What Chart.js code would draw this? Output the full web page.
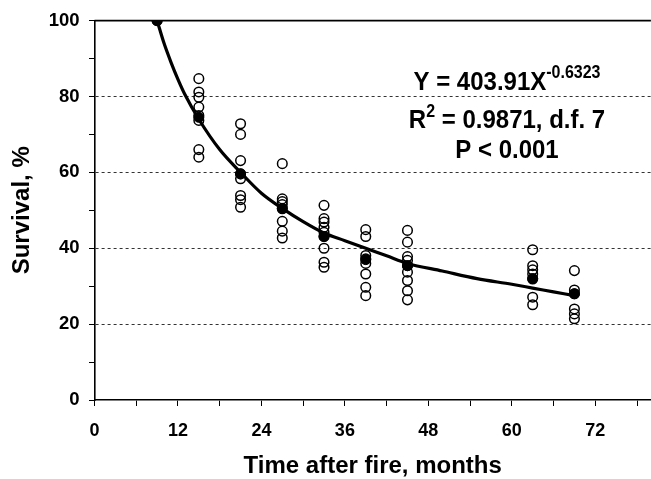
<!DOCTYPE html>
<html>
<head>
<meta charset="utf-8">
<script src="https://cdn.jsdelivr.net/npm/chart.js@4.4.1/dist/chart.umd.min.js"></script>
<style>
  html, body { margin: 0; padding: 0; background: #fff; }
  #wrap { width: 651px; height: 479px; position: relative; }
</style>
</head>
<body>
<div id="wrap"><canvas id="c" width="651" height="479"></canvas></div>
<script>
// ---- Data ----
const months = [9, 15, 21, 27, 33, 39, 45, 63, 69];
const obs09 = [100];
const obs15 = [84.7, 81.2, 79.8, 77.2, 75.0, 73.7, 66.0, 64.0];
const obs21 = [72.8, 70.0, 63.1, 59.6, 58.3, 53.9, 52.8, 50.8];
const obs27 = [62.3, 53.0, 52.3, 51.5, 50.4, 47.1, 44.5, 42.7];
const obs33 = [51.3, 47.8, 46.9, 45.5, 44.2, 43.1, 40.0, 36.3, 35.0];
const obs39 = [44.9, 43.1, 38.1, 37.2, 36.0, 33.2, 29.7, 27.5];
const obs45 = [44.7, 41.6, 37.8, 36.8, 35.4, 33.7, 31.5, 28.8, 26.4];
const obs63 = [39.6, 35.4, 34.3, 33.2, 31.9, 27.1, 25.1];
const obs69 = [34.1, 29.0, 28.0, 24.0, 22.7, 21.4];
const meanSurvival = [100, 74.5, 59.6, 50.5, 43.1, 37.0, 35.4, 32.0, 28.0];

// fitted power curve
const fitMonths = [9, 10, 11, 12, 13, 15, 18, 21, 24, 27, 30, 33, 36, 39, 42, 45, 50, 55, 60, 63, 66, 69];
const fitSurvival = [100, 94, 89, 84.5, 80.5, 74, 66, 60, 54.5, 50.5, 47, 44, 42, 40, 38, 36, 34, 32, 30.5, 29.5, 28.5, 27.5];

const xTickValues = [0, 6, 12, 18, 24, 30, 36, 42, 48, 54, 60, 66, 72, 78];
const xTickLabels = ['0', '', '12', '', '24', '', '36', '', '48', '', '60', '', '72', ''];
const yTickValues = [0, 10, 20, 30, 40, 50, 60, 70, 80, 90, 100];
const yTickLabels = ['0', '', '20', '', '40', '', '60', '', '80', '', '100'];
const dashedGridValues = [20, 40, 60, 80];

const equationLines = [
  { base: 'Y = 403.91X', sup: '-0.6323', after: '' },
  { base: 'R', sup: '2', after: ' = 0.9871, d.f. 7' },
  { base: 'P < 0.001', sup: '', after: '' }
];

// ---- build datasets ----
const obsGroups = [obs09, obs15, obs21, obs27, obs33, obs39, obs45, obs63, obs69];
const obsPoints = [];
obsGroups.forEach((g, i) => g.forEach(v => obsPoints.push({ x: months[i], y: v })));
const meanPoints = months.map((m, i) => ({ x: m, y: meanSurvival[i] }));
const fitPoints = fitMonths.map((m, i) => ({ x: m, y: fitSurvival[i] }));

const FONT = '"Liberation Sans", Arial, Helvetica, sans-serif';

const framePlugin = {
  id: 'frame',
  afterDatasetsDraw(chart) {
    const { ctx, chartArea, scales } = chart;
    const yTop = scales.y.getPixelForValue(100);
    ctx.save();
    ctx.strokeStyle = '#000';
    ctx.lineWidth = 1.6;
    ctx.beginPath();
    ctx.moveTo(chartArea.left, yTop);
    ctx.lineTo(chartArea.right, yTop);
    ctx.stroke();
    ctx.restore();
  },
  afterDraw(chart) {
    const { ctx } = chart;
    const baseFont = 'bold 24px ' + FONT;
    const supFont = 'bold 16px ' + FONT;
    const centerX = 507;
    const baselines = [90, 128, 158];
    const supRaise = [12, 11, 0];
    const stretch = 1.1;
    equationLines.forEach((ln, i) => {
      ctx.save();
      ctx.fillStyle = '#000';
      ctx.textBaseline = 'alphabetic';
      ctx.textAlign = 'left';
      ctx.font = baseFont;
      const w1 = ctx.measureText(ln.base).width;
      const w3 = ln.after ? ctx.measureText(ln.after).width : 0;
      ctx.font = supFont;
      const w2 = ln.sup ? ctx.measureText(ln.sup).width : 0;
      const total = w1 + w2 + w3;
      let x = centerX - total / 2;
      ctx.translate(0, baselines[i]);
      ctx.scale(1, stretch);
      ctx.font = baseFont;
      ctx.fillText(ln.base, x, 0);
      x += w1;
      if (ln.sup) {
        ctx.font = supFont;
        ctx.fillText(ln.sup, x, -supRaise[i] / stretch);
        x += w2;
      }
      if (ln.after) {
        ctx.font = baseFont;
        ctx.fillText(ln.after, x, 0);
      }
      ctx.restore();
    });
  }
};

new Chart(document.getElementById('c'), {
  type: 'scatter',
  data: {
    datasets: [
      {
        type: 'line',
        label: 'fit',
        data: fitPoints,
        borderColor: '#000',
        borderWidth: 3.2,
        pointRadius: 0,
        fill: false,
        cubicInterpolationMode: 'monotone',
        order: 1
      },
      {
        label: 'observed',
        data: obsPoints,
        pointStyle: 'circle',
        pointRadius: 4.8,
        pointBorderWidth: 1.5,
        pointBackgroundColor: 'rgba(255,255,255,0)',
        pointBorderColor: '#000',
        order: 2
      },
      {
        label: 'mean',
        data: meanPoints,
        pointStyle: 'circle',
        pointRadius: 5,
        pointBorderWidth: 1,
        pointBackgroundColor: '#000',
        pointBorderColor: '#000',
        order: 0
      }
    ]
  },
  options: {
    responsive: false,
    animation: false,
    events: [],
    layout: { autoPadding: false, padding: { left: 0, right: 0, top: 20, bottom: 0 } },
    plugins: { legend: { display: false }, tooltip: { enabled: false } },
    scales: {
      x: {
        type: 'linear',
        min: 0,
        max: 80,
        afterBuildTicks(scale) { scale.ticks = xTickValues.map(v => ({ value: v })); },
        afterFit(scale) { scale.height = 79; },
        grid: {
          drawOnChartArea: false,
          drawTicks: true,
          tickLength: 6,
          tickColor: '#000',
          tickWidth: 1
        },
        border: { display: true, color: '#000', width: 1.6 },
        ticks: {
          autoSkip: false,
          maxRotation: 0,
          padding: 14,
          color: '#000',
          font: { family: FONT, size: 18, weight: 'bold' },
          callback(v) { const i = xTickValues.indexOf(v); return i >= 0 ? xTickLabels[i] : ''; }
        },
        title: {
          display: true,
          text: 'Time after fire, months',
          color: '#000',
          font: { family: FONT, size: 24, weight: 'bold', lineHeight: 1 },
          padding: { top: 0, bottom: 1 }
        }
      },
      y: {
        type: 'linear',
        min: 0,
        max: 100,
        afterBuildTicks(scale) { scale.ticks = yTickValues.map(v => ({ value: v })); },
        afterFit(scale) { scale.width = 94.5; },
        grid: {
          drawOnChartArea: true,
          drawTicks: true,
          tickLength: 5.5,
          tickColor: '#000',
          tickWidth: 1,
          lineWidth: 1,
          color(ctx) { return dashedGridValues.includes(ctx.tick && ctx.tick.value) ? '#333' : 'rgba(0,0,0,0)'; }
        },
        border: { display: true, color: '#000', width: 1.6, dash: [3, 3] },
        ticks: {
          autoSkip: false,
          padding: 9.5,
          color: '#000',
          font: { family: FONT, size: 18.5, weight: 'bold' },
          callback(v) { const i = yTickValues.indexOf(v); return i >= 0 ? yTickLabels[i] : ''; }
        },
        title: {
          display: true,
          text: 'Survival, %',
          color: '#000',
          font: { family: FONT, size: 24, weight: 'bold', lineHeight: 1 },
          padding: { top: 10, bottom: 0 }
        }
      }
    }
  },
  plugins: [framePlugin]
});
</script>
</body>
</html>
